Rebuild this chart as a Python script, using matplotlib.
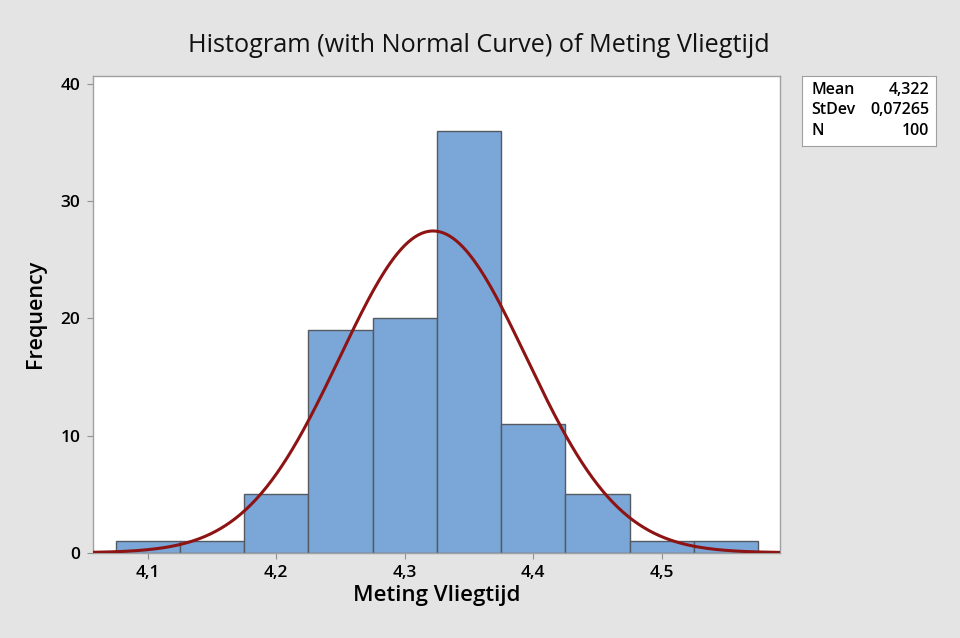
import numpy as np
import matplotlib
matplotlib.use("Agg")
import matplotlib.pyplot as plt

# bin midpoints and counts
bin_mids = [4.10, 4.15, 4.20, 4.25, 4.30, 4.35, 4.40, 4.45, 4.50, 4.55]
counts = [1, 1, 5, 19, 20, 36, 11, 5, 1, 1]
bin_width = 0.05

mean_val = 4.322
stdev_val = 0.07265
n_obs = 100

x_ticks = [4.1, 4.2, 4.3, 4.4, 4.5]
x_tick_labels = ["4,1", "4,2", "4,3", "4,4", "4,5"]
y_ticks = [0, 10, 20, 30, 40]

plt.rcParams['font.family'] = ['Open Sans', 'DejaVu Sans']

fig = plt.figure(figsize=(9.6, 6.38), dpi=100, facecolor='#E4E4E4')
ax = fig.add_axes([92.7 / 960, 1 - 552.7 / 638, (780 - 92.7) / 960, (552.7 - 76) / 638])
ax.set_facecolor('white')

ax.bar(bin_mids, counts, width=bin_width, color='#7BA6D8',
       edgecolor='#555A60', linewidth=1.0, zorder=2)

xmin, xmax = 4.0572, 4.592
xs = np.linspace(xmin, xmax, 400)
pdf = np.exp(-0.5 * ((xs - mean_val) / stdev_val) ** 2) / (stdev_val * np.sqrt(2 * np.pi))
ax.plot(xs, pdf * n_obs * bin_width, color='#8E1414', linewidth=2.2, zorder=3)

ax.set_xlim(xmin, xmax)
ax.set_ylim(0, 40.68)
ax.set_xticks(x_ticks)
ax.set_xticklabels(x_tick_labels)
ax.set_yticks(y_ticks)
ax.tick_params(axis='both', direction='out', length=4, width=0.8,
               color='#909090', labelsize=12.5, pad=5)
for lab in ax.get_xticklabels() + ax.get_yticklabels():
    lab.set_fontweight('semibold')
for s in ax.spines.values():
    s.set_color('#A0A0A0')
    s.set_linewidth(1.0)

ax.set_xlabel('Meting Vliegtijd', fontsize=16, fontweight='semibold', labelpad=3)
ax.set_ylabel('Frequency', fontsize=15.5, fontweight='semibold', labelpad=10)
fig.text(0.499, 0.929, 'Histogram (with Normal Curve) of Meting Vliegtijd',
         ha='center', va='center', fontsize=18.2, color='#111111')

# stats box
box = fig.add_axes([802 / 960, 1 - 146 / 638, 134 / 960, 70 / 638])
box.set_xticks([])
box.set_yticks([])
box.set_facecolor('white')
for s in box.spines.values():
    s.set_color('#A0A0A0')
stats = [("Mean", "4,322"), ("StDev", "0,07265"), ("N", "100")]
for i, (k, v) in enumerate(stats):
    yy = 0.8 - i * 0.29
    box.text(0.07, yy, k, ha='left', va='center', fontsize=11.5,
             fontweight='semibold', transform=box.transAxes)
    box.text(0.95, yy, v, ha='right', va='center', fontsize=11.5,
             fontweight='semibold', transform=box.transAxes)

fig.savefig('out.png', dpi=100, facecolor=fig.get_facecolor())
